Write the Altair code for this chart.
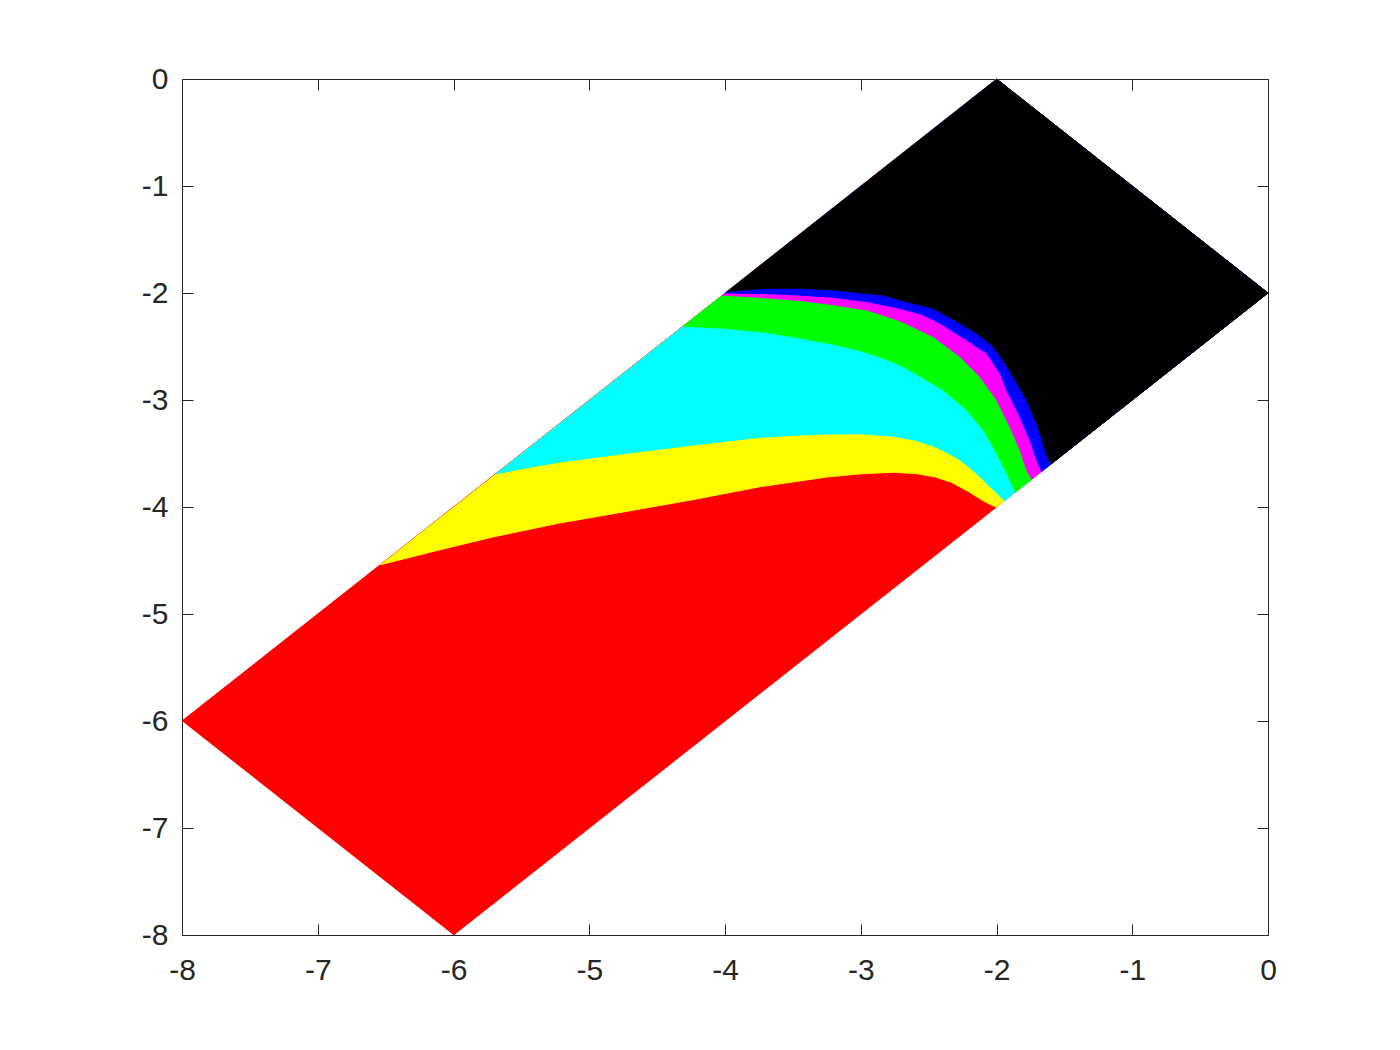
import altair as alt
import pandas as pd

# ---- axis ticks ----
x_ticks = [-8, -7, -6, -5, -4, -3, -2, -1, 0]
y_ticks = [-8, -7, -6, -5, -4, -3, -2, -1, 0]

# ---- parallelogram corners: left, top, right, bottom ----
corner_x = [-8, -2, 0, -6]
corner_y = [-6, 0, -2, -8]

# ---- region boundaries (from upper-left edge to lower-right edge) ----
# red / yellow
yellow_top_x = [-6.54, -6.1, -5.71, -5.22, -4.72, -4.23, -3.74, -3.25, -3.0, -2.76, -2.58, -2.45, -2.33, -2.20, -2.10, -2.04, -2.0]
yellow_top_y = [-4.54, -4.40, -4.28, -4.15, -4.04, -3.93, -3.81, -3.72, -3.69, -3.675, -3.69, -3.72, -3.77, -3.86, -3.94, -3.98, -4.0]
# yellow / cyan
cyan_top_x = [-5.69, -5.45, -5.215, -4.724, -4.233, -3.742, -3.5, -3.251, -3.006, -2.760, -2.6, -2.466, -2.35, -2.269, -2.19, -2.122, -2.023, -1.94]
cyan_top_y = [-3.69, -3.63, -3.58, -3.498, -3.421, -3.349, -3.33, -3.318, -3.316, -3.338, -3.375, -3.43, -3.50, -3.561, -3.64, -3.717, -3.841, -3.94]
# cyan / green
green_top_x = [-4.31, -4.0, -3.693, -3.447, -3.2, -3.0, -2.834, -2.70, -2.588, -2.392, -2.220, -2.097, -1.999, -1.925, -1.86]
green_top_y = [-2.31, -2.33, -2.37, -2.42, -2.48, -2.54, -2.61, -2.68, -2.76, -2.907, -3.093, -3.280, -3.498, -3.685, -3.86]
# green / magenta
magenta_top_x = [-4.02, -3.75, -3.447, -3.2, -2.956, -2.711, -2.466, -2.269, -2.122, -1.999, -1.901, -1.827, -1.778, -1.74]
magenta_top_y = [-2.02, -2.04, -2.07, -2.11, -2.159, -2.26, -2.408, -2.595, -2.782, -3.0, -3.250, -3.467, -3.654, -3.74]
# magenta / blue
blue_top_x = [-4.0, -3.7, -3.447, -3.202, -2.956, -2.711, -2.55, -2.416, -2.220, -2.072, -1.974, -1.925, -1.827, -1.753, -1.704, -1.667]
blue_top_y = [-2.0, -2.005, -2.02, -2.04, -2.08, -2.143, -2.20, -2.283, -2.439, -2.563, -2.750, -2.907, -3.156, -3.374, -3.561, -3.667]
# blue / black
black_top_x = [-3.985, -3.693, -3.45, -3.202, -2.834, -2.711, -2.466, -2.269, -2.14, -2.023, -1.95, -1.876, -1.778, -1.704, -1.655, -1.618, -1.595]
black_top_y = [-1.985, -1.955, -1.955, -1.972, -2.019, -2.065, -2.143, -2.283, -2.38, -2.502, -2.63, -2.782, -3.0, -3.218, -3.405, -3.561, -3.595]

region_names = ["red", "yellow", "cyan", "green", "magenta", "blue", "black"]
region_colors = ["#ff0000", "#ffff00", "#00ffff", "#00ff00", "#ff00ff", "#0000ff", "#000000"]

boundaries = {
    "yellow": (yellow_top_x, yellow_top_y),
    "cyan": (cyan_top_x, cyan_top_y),
    "green": (green_top_x, green_top_y),
    "magenta": (magenta_top_x, magenta_top_y),
    "blue": (blue_top_x, blue_top_y),
    "black": (black_top_x, black_top_y),
}


def polygon(name):
    if name == "red":
        xs, ys = list(corner_x), list(corner_y)
    else:
        bx, by = boundaries[name]
        # boundary, then right corner, then top corner
        xs = list(bx) + [corner_x[2], corner_x[1]]
        ys = list(by) + [corner_y[2], corner_y[1]]
    return pd.DataFrame({"x": xs, "y": ys, "i": list(range(len(xs)))})


sx = alt.Scale(domain=[-8, 0], nice=False, zero=False)
sy = alt.Scale(domain=[-8, 0], nice=False, zero=False)

layers = []
for name, color in zip(region_names, region_colors):
    layers.append(
        alt.Chart(polygon(name))
        .mark_line(fill=color, stroke=color, strokeWidth=1, interpolate="linear")
        .encode(
            x=alt.X("x:Q", scale=sx, axis=None),
            y=alt.Y("y:Q", scale=sy, axis=None),
            order=alt.Order("i:Q"),
        )
    )

tick_df = pd.DataFrame({"x": x_ticks, "y": y_ticks})
FONT = "Liberation Sans"
DARK = "#262626"
label_expr = "datum.value < 0 ? '-' + abs(datum.value) : '' + datum.value"

# labels layer
labels_layer = alt.Chart(tick_df).mark_point(opacity=0).encode(
    x=alt.X("x:Q", scale=sx, title="", axis=alt.Axis(
        orient="bottom", values=x_ticks, labelExpr=label_expr, labelFont=FONT,
        labelFontSize=30, labelColor=DARK, labelPadding=20, ticks=False, tickSize=0,
        domain=False, grid=False, labelFlush=False, labelOverlap=False)),
    y=alt.Y("y:Q", scale=sy, title="", axis=alt.Axis(
        orient="left", values=y_ticks, labelExpr=label_expr, labelFont=FONT,
        labelFontSize=30, labelColor=DARK, labelPadding=14, ticks=False, tickSize=0,
        domain=False, grid=False, labelFlush=False, labelOverlap=False)),
)


def tick_axis(orient, values, offset):
    return alt.Axis(orient=orient, values=values, offset=offset, labels=False, ticks=True,
                    tickSize=11, tickColor=DARK, tickWidth=1, domain=False, grid=False)


W, H = 1086, 856
ticks_a = alt.Chart(tick_df).mark_point(opacity=0).encode(
    x=alt.X("x:Q", scale=sx, title="", axis=tick_axis("top", x_ticks, -H)),
    y=alt.Y("y:Q", scale=sy, title="", axis=tick_axis("right", y_ticks, -W)),
)
ticks_b = alt.Chart(tick_df).mark_point(opacity=0).encode(
    x=alt.X("x:Q", scale=sx, title="", axis=tick_axis("bottom", x_ticks, -H)),
    y=alt.Y("y:Q", scale=sy, title="", axis=tick_axis("left", y_ticks, -W)),
)

chart = (
    alt.layer(*layers, labels_layer, ticks_a, ticks_b)
    .resolve_axis(x="independent", y="independent")
    .properties(
        width=W, height=H,
        padding={"left": 174, "top": 71, "right": 100, "bottom": 90},
        autosize=alt.AutoSizeParams(type="none"),
        background="white",
    )
    .configure_view(stroke=DARK, strokeWidth=1)
)

chart.save("out.html", embed_options={"renderer": "svg", "actions": False})
